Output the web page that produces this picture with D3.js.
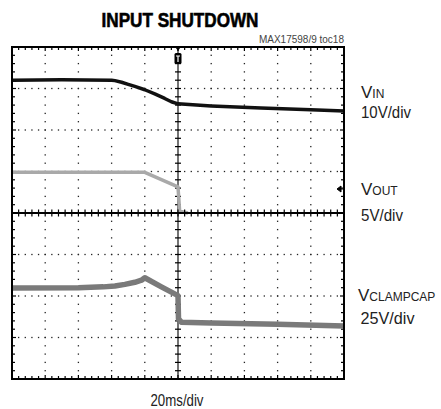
<!DOCTYPE html>
<html>
<head>
<meta charset="utf-8">
<script src="https://cdn.jsdelivr.net/npm/d3@7"></script>
<style>
  body { margin: 0; background: #fff; }
  svg { display: block; }
</style>
</head>
<body>
<div id="chart"></div>
<script>
// time in ms (20ms/div, 10 div across), trace level in scope divisions (centre line = 0)
const vinTime   = [0, 30, 60, 62, 66, 70, 74, 80, 86, 92, 96, 100, 120, 150, 180, 200];
const vinDiv    = [3.20, 3.21, 3.20, 3.19, 3.15, 3.10, 3.05, 2.97, 2.87, 2.76, 2.68, 2.63, 2.58, 2.53, 2.49, 2.46];
const voutTime  = [0, 40, 80, 100, 101, 106];
const voutDiv   = [0.98, 0.98, 0.98, 0.63, 0.04, 0.0];
const clampTime = [0, 40, 55, 62, 68, 74, 78, 80, 90, 100, 100.3, 102, 120, 160, 200];
const clampDiv  = [-1.81, -1.80, -1.78, -1.76, -1.72, -1.67, -1.62, -1.56, -1.78, -1.99, -2.55, -2.63, -2.65, -2.68, -2.72];

const traceSubs   = ["IN", "OUT", "CLAMPCAP"];
const traceScales = ["10V/div", "5V/div", "25V/div"];
const title = "INPUT SHUTDOWN";
const tocLabel = "MAX17598/9 toc18";
const timeLabel = "20ms/div";

const W = 441, H = 409;
const svg = d3.select("#chart").append("svg").attr("width", W).attr("height", H);

const x = d3.scaleLinear().domain([0, 200]).range([12, 344]);
const y = d3.scaleLinear().domain([-4, 4]).range([379, 47]);

const minorX = d3.range(0, 200.01, 4);
const minorY = d3.range(-4, 4.01, 0.2).map(v => Math.round(v * 10) / 10);
const majorX = d3.range(20, 181, 20).filter(v => v !== 100);
const majorY = d3.range(-3, 4, 1).filter(v => v !== 0);

// dotted graticule
const dots = [];
majorX.forEach(mx => minorY.forEach(my => dots.push([mx, my])));
majorY.forEach(my => minorX.forEach(mx => dots.push([mx, my])));
svg.append("g").selectAll("rect").data(dots).join("rect")
  .attr("x", d => x(d[0]) - 0.65).attr("y", d => y(d[1]) - 0.65)
  .attr("width", 1.3).attr("height", 1.3).attr("fill", "#222");

// centre vertical + border ticks
const g = svg.append("g").attr("stroke", "#000").attr("stroke-width", 1.2);
g.append("line").attr("x1", x(100)).attr("x2", x(100)).attr("y1", y(-4)).attr("y2", y(4)).attr("stroke-width", 1.1);
g.selectAll(".ty").data(minorY).join("line").attr("class", "ty")
  .attr("y1", d => y(d)).attr("y2", d => y(d)).attr("x1", x(100) - 3).attr("x2", x(100) + 3);

const isMajX = d => d % 20 === 0, isMajY = d => Number.isInteger(d);
g.selectAll(".bt").data(minorX).join("line").attr("class", "bt")
  .attr("x1", d => x(d)).attr("x2", d => x(d)).attr("y1", y(4)).attr("y2", d => y(4) + (isMajX(d) ? 4 : 3));
g.selectAll(".bb").data(minorX).join("line").attr("class", "bb")
  .attr("x1", d => x(d)).attr("x2", d => x(d)).attr("y1", y(-4)).attr("y2", d => y(-4) - (isMajX(d) ? 4 : 3));
g.selectAll(".bl").data(minorY).join("line").attr("class", "bl")
  .attr("y1", d => y(d)).attr("y2", d => y(d)).attr("x1", x(0)).attr("x2", d => x(0) + (isMajY(d) ? 4 : 3));
g.selectAll(".br").data(minorY).join("line").attr("class", "br")
  .attr("y1", d => y(d)).attr("y2", d => y(d)).attr("x1", x(200)).attr("x2", d => x(200) - (isMajY(d) ? 4 : 3));

// traces
const line = d3.line().x(d => x(d[0])).y(d => y(d[1]));
const traces = [
  {t: clampTime, v: clampDiv, color: "#7a7a7a", width: 5.5},
  {t: voutTime, v: voutDiv, color: "#a9a9a9", width: 3.5},
  {t: vinTime, v: vinDiv, color: "#111", width: 3.5}
];
svg.append("g").selectAll("path").data(traces).join("path")
  .attr("d", d => line(d.t.map((t, i) => [t, d.v[i]])))
  .attr("fill", "none").attr("stroke", d => d.color).attr("stroke-width", d => d.width)
  .attr("stroke-linejoin", "round");

// centre horizontal with ticks, on top
const gh = svg.append("g").attr("stroke", "#000");
gh.append("line").attr("x1", x(0)).attr("x2", x(200)).attr("y1", y(0)).attr("y2", y(0)).attr("stroke-width", 1.8);
gh.selectAll(".tx").data(minorX).join("line").attr("class", "tx")
  .attr("x1", d => x(d)).attr("x2", d => x(d)).attr("y1", y(0) - 3.5).attr("y2", y(0) + 3.5).attr("stroke-width", 1.2);

// frame
svg.append("rect").attr("x", x(0)).attr("y", y(4)).attr("width", x(200) - x(0)).attr("height", y(-4) - y(4))
  .attr("fill", "none").attr("stroke", "#000").attr("stroke-width", 2);

// trigger marker
const tx0 = x(100);
svg.append("path").attr("d", `M${tx0 - 3.5},46 L${tx0 + 3.5},46 L${tx0},51 Z`).attr("fill", "#000");
svg.append("rect").attr("x", tx0 - 3.5).attr("y", 53).attr("width", 7).attr("height", 11).attr("rx", 1.5).attr("fill", "#000");
svg.append("path").attr("d", `M${tx0 - 2},56 H${tx0 + 2} M${tx0},56 V62`).attr("stroke", "#fff").attr("stroke-width", 1.2);

// VOUT ground marker
svg.append("path").attr("d", `M337,189 L341,186 L341,192 Z M341,189 H344`).attr("fill", "#000").attr("stroke", "#000").attr("stroke-width", 1);

// texts
const font = "'Liberation Sans', Arial, sans-serif";
svg.append("text").attr("x", 180).attr("y", 27).attr("text-anchor", "middle")
  .attr("font-family", font).attr("font-weight", "bold").attr("font-size", 20)
  .attr("stroke", "#000").attr("stroke-width", 0.6)
  .attr("textLength", 157).attr("lengthAdjust", "spacingAndGlyphs").text(title);
svg.append("text").attr("x", 344).attr("y", 43).attr("text-anchor", "end")
  .attr("font-family", font).attr("font-size", 10).attr("fill", "#444").text(tocLabel);

const labelX = [361, 361, 358], labelY = [98, 195, 301];
const scaleX = [361, 361, 360.5], scaleY = [118, 221, 324], scaleW = [50, 42, 54];
traceSubs.forEach((s, i) => {
  const t = svg.append("text").attr("x", labelX[i]).attr("y", labelY[i]).attr("font-family", font).attr("fill", "#222");
  t.append("tspan").attr("font-size", 17).text("V");
  t.append("tspan").attr("font-size", 12).text(s);
  svg.append("text").attr("x", scaleX[i]).attr("y", scaleY[i]).attr("font-family", font).attr("font-size", 17)
    .attr("textLength", scaleW[i]).attr("lengthAdjust", "spacingAndGlyphs")
    .attr("fill", "#222").text(traceScales[i]);
});
svg.append("text").attr("x", 177).attr("y", 406).attr("text-anchor", "middle").attr("font-family", font)
  .attr("font-size", 17).attr("textLength", 53).attr("lengthAdjust", "spacingAndGlyphs")
  .attr("fill", "#222").text(timeLabel);
</script>
</body>
</html>
